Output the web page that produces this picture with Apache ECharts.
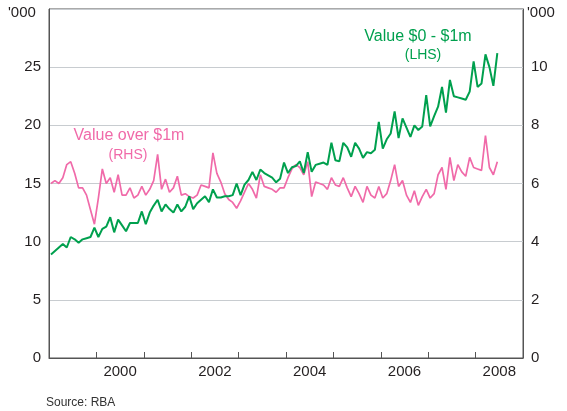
<!DOCTYPE html>
<html>
<head>
<meta charset="utf-8">
<script src="https://cdn.jsdelivr.net/npm/echarts@6/dist/echarts.min.js"></script>
<style>
html,body{margin:0;padding:0;background:#fff;}
#c{width:567px;height:411px;}
</style>
</head>
<body>
<div id="c"></div>
<script>
// Monthly data, Jan 1999 - Jun 2008
const startYear = 1999;
const years = ['1999','2000','2001','2002','2003','2004','2005','2006','2007','2008'];
const leftTicks = [0, 5, 10, 15, 20, 25];
const rightTicks = [0, 2, 4, 6, 8, 10];
// Value $0 - $1m ('000, LHS)
const valueUnder1m = [
  8.9, 9.2, 9.5, 9.8, 9.5, 10.4, 10.2, 9.9, 10.2, 10.3, 10.4, 11.2,
  10.4, 11.1, 11.3, 12.1, 10.8, 11.9, 11.4, 10.9, 11.6, 11.6, 11.6, 12.6,
  11.5, 12.5, 13.1, 13.6, 12.6, 13.2, 12.8, 12.5, 13.2, 12.6, 13.0, 13.9,
  12.8, 13.3, 13.6, 13.9, 13.4, 14.5, 13.8, 13.8, 13.9, 13.9, 14.0, 15.0,
  14.0, 14.9, 15.3, 16.0, 15.3, 16.2, 15.9, 15.7, 15.5, 15.1, 15.4, 16.8,
  15.9, 16.4, 16.5, 16.9, 15.9, 17.7, 16.0, 16.6, 16.7, 16.8, 16.6, 18.5,
  17.0, 16.9, 18.5, 18.1, 17.3, 18.5, 18.0, 17.2, 17.7, 17.6, 17.9, 20.3,
  18.0, 18.8, 19.3, 21.2, 18.9, 20.6, 19.8, 19.0, 20.0, 19.6, 19.9, 22.6,
  19.9, 20.8, 21.6, 23.3, 21.1, 23.9, 22.5, 22.4, 22.3, 22.2, 22.9, 25.5,
  23.3, 23.6, 26.1, 25.0, 23.4, 26.2
];
// Value over $1m ('000, RHS)
const valueOver1m = [
  6.0, 6.1, 6.0, 6.2, 6.65, 6.75, 6.35, 5.85, 5.85, 5.6, 5.1, 4.6,
  5.5, 6.5, 6.0, 6.2, 5.7, 6.3, 5.6, 5.6, 5.85, 5.5, 5.6, 5.9,
  5.6, 5.8, 6.1, 7.0, 5.8, 6.15, 5.7, 5.85, 6.25, 5.6, 5.65, 5.55,
  5.5, 5.6, 5.95, 5.9, 5.85, 7.05, 6.35, 6.05, 5.65, 5.45, 5.35, 5.15,
  5.4, 5.7, 6.0, 5.8, 5.5, 6.3, 5.9, 5.85, 5.8, 5.7, 5.85, 5.85,
  6.2, 6.5, 6.65, 6.55, 6.3, 6.75, 5.55, 6.05, 6.0, 5.95, 5.8, 6.2,
  5.95, 5.9, 6.2, 5.85, 5.55, 5.9, 5.65, 5.35, 5.9, 5.6, 5.5, 5.9,
  5.5, 5.65, 6.1, 6.65, 5.9, 6.1, 5.6, 5.35, 5.75, 5.25, 5.55, 5.8,
  5.5, 5.65, 6.3, 6.55, 5.8, 6.9, 6.1, 6.65, 6.4, 6.25, 6.9, 6.55,
  6.5, 6.45, 7.65, 6.55, 6.3, 6.75
];

const toPairs = arr => arr.map((v, i) => [startYear + (i + 0.5) / 12, v]);

const chart = echarts.init(document.getElementById('c'), null, {renderer: 'canvas'});
const axisColor = '#555555';
const textColor = '#231f20';
const fontFamily = 'Liberation Sans, Arial, sans-serif';

chart.setOption({
  animation: false,
  backgroundColor: '#ffffff',
  textStyle: {fontFamily: fontFamily},
  grid: {left: 49, right: 44, top: 9, bottom: 53, show: true, borderColor: axisColor, borderWidth: 1, backgroundColor: 'transparent'},
  xAxis: [
    {
      type: 'category', data: years, boundaryGap: true, position: 'bottom',
      axisLine: {show: true, lineStyle: {color: axisColor, width: 1}},
      axisTick: {show: true, inside: true, length: 6, interval: 0, lineStyle: {color: axisColor}},
      axisLabel: {interval: (idx, val) => parseInt(val, 10) % 2 === 0, color: textColor, fontSize: 15, margin: 6, fontFamily: fontFamily},
      splitLine: {show: false}
    },
    {
      type: 'value', min: 1999, max: 2009, position: 'top', show: false
    }
  ],
  yAxis: [
    {
      type: 'value', min: 0, max: 30, interval: 5, position: 'left',
      axisLine: {show: true, lineStyle: {color: axisColor}},
      axisTick: {show: false},
      axisLabel: {color: textColor, fontSize: 15, margin: 8, fontFamily: fontFamily,
        formatter: v => leftTicks.indexOf(v) >= 0 ? String(v) : ''},
      splitLine: {show: true, lineStyle: {color: '#c8ccd0', width: 1}}
    },
    {
      type: 'value', min: 0, max: 12, interval: 2, position: 'right',
      axisLine: {show: true, lineStyle: {color: axisColor}},
      axisTick: {show: false},
      axisLabel: {color: textColor, fontSize: 15, margin: 8, fontFamily: fontFamily,
        formatter: v => rightTicks.indexOf(v) >= 0 ? String(v) : ''},
      splitLine: {show: false}
    }
  ],
  series: [
    {
      name: 'Value over $1m (RHS)', type: 'line', xAxisIndex: 1, yAxisIndex: 1,
      data: toPairs(valueOver1m), showSymbol: false, symbol: 'none',
      lineStyle: {color: '#f06aa9', width: 1.7}, z: 3
    },
    {
      name: 'Value $0 - $1m (LHS)', type: 'line', xAxisIndex: 1, yAxisIndex: 0,
      data: toPairs(valueUnder1m), showSymbol: false, symbol: 'none',
      lineStyle: {color: '#00a04e', width: 2}, z: 4
    }
  ],
  graphic: [
    {type: 'text', left: 8, top: 5, style: {text: "'000", fill: textColor, font: '15px ' + fontFamily}},
    {type: 'text', left: 527, top: 5, style: {text: "'000", fill: textColor, font: '15px ' + fontFamily}},
    {type: 'text', x: 418, y: 37, style: {text: 'Value $0 - $1m', fill: '#00a04e', font: '16px ' + fontFamily, align: 'center', verticalAlign: 'middle'}},
    {type: 'text', x: 423, y: 55, style: {text: '(LHS)', fill: '#00a04e', font: '14px ' + fontFamily, align: 'center', verticalAlign: 'middle'}},
    {type: 'text', x: 129, y: 136, style: {text: 'Value over $1m', fill: '#f06aa9', font: '16px ' + fontFamily, align: 'center', verticalAlign: 'middle'}},
    {type: 'text', x: 128, y: 155, style: {text: '(RHS)', fill: '#f06aa9', font: '14px ' + fontFamily, align: 'center', verticalAlign: 'middle'}},
    {type: 'text', left: 46, top: 397, style: {text: 'Source: RBA', fill: '#333333', font: '12px ' + fontFamily}}
  ]
});
</script>
</body>
</html>
